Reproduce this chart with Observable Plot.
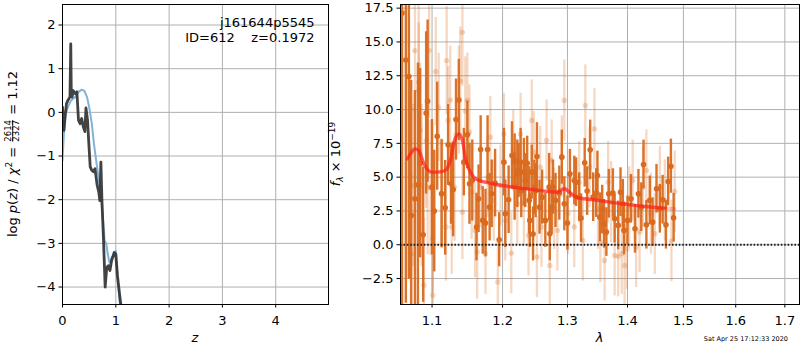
<!DOCTYPE html>
<html><head><meta charset="utf-8">
<script src="https://cdn.jsdelivr.net/npm/d3@7"></script>
<script src="https://cdn.jsdelivr.net/npm/@observablehq/plot@0.6"></script>
<style>
body{margin:0;background:#fff;}
#wrap{position:relative;width:800px;height:350px;font-family:"DejaVu Sans",sans-serif;background:#fff;}
#wrap svg{position:absolute;top:0;overflow:visible;max-width:none;}
svg text{white-space:pre;}
</style></head><body><div id="wrap"></div>
<script>
// ---------- Left panel data: log p(z) ----------
const zBlue = [0,0.03,0.06,0.1,0.16,0.24,0.3,0.36,0.41,0.46,0.5,0.55,0.59,0.64,0.69,0.73,0.76,0.79,0.82,0.85,0.88,0.91,0.96,1.0,1.03,1.07,1.1,1.15];
const pBlue = [-1.1,-0.41,-0.04,0.12,0.27,0.35,0.47,0.52,0.49,0.35,0.12,-0.26,-0.72,-1.18,-1.6,-2.02,-2.48,-2.94,-3.0,-3.25,-3.44,-3.36,-3.25,-3.17,-3.7,-4.3,-4.76,-5.5];
const zBlack = [0,0.014,0.027,0.05,0.075,0.1,0.14,0.155,0.165,0.18,0.2,0.24,0.27,0.3,0.33,0.36,0.39,0.42,0.44,0.47,0.49,0.52,0.55,0.58,0.61,0.65,0.68,0.7,0.72,0.74,0.77,0.8,0.83,0.86,0.89,0.92,0.97,1.0,1.03,1.07,1.1,1.15];
const pBlack = [0.12,-0.2,-0.41,-0.07,0.2,0.27,0.35,1.57,0.4,0.35,0.5,0.43,0.47,-0.18,-0.26,-0.14,-0.33,-0.44,0.1,-0.18,-0.63,-1.25,-1.33,-1.36,-1.29,-1.67,-1.82,-2.02,-1.14,-2.02,-2.94,-4.0,-3.55,-3.51,-3.62,-3.4,-3.21,-3.25,-3.74,-4.16,-4.46,-5.2];
const leftXTicks = [0,1,2,3,4];
const leftYTicks = [-4,-3,-2,-1,0,1,2];
const annot1 = "j161644p5545";
const annot2 = "ID=612    z=0.1972";

// ---------- Right panel data: spectrum ----------
const darkLam = [1.060,1.065,1.069,1.072,1.077,1.081,1.084,1.088,1.092,1.094,
 1.100,1.103,1.107,1.113,1.118,1.122,1.126,1.129,1.133,1.137,
 1.144,1.149,1.152,1.156,1.162,1.165,1.168,1.171,1.175,1.178,
 1.181,1.184,1.189,1.195,1.202,1.204,1.209,1.214,1.218,1.222,
 1.227,1.232,1.234,1.237,1.240,1.244,1.248,1.252,1.256,1.260,
 1.265,1.271,1.272,1.275,1.277,1.281,1.287,1.291,1.295,1.300,
 1.304,1.314,1.319,1.322,1.328,1.332,1.337,1.342,1.347,1.349,
 1.353,1.360,1.364,1.368,1.375,1.378,1.384,1.388,1.392,1.394,
 1.400,1.406,1.413,1.419,1.424,1.428,1.433,1.439,1.444,1.451,
 1.457,1.462,1.468,1.472,1.477,1.482,
 1.218,1.224,1.228,1.241,1.246,1.250,1.357,1.311];
const darkFlux = [17.14,13.67,12.44,2.17,3.40,4.43,6.03,0.74,9.75,10.62,
 4.26,2.49,8.03,3.77,2.73,7.39,4.51,4.09,9.26,10.71,
 6.11,8.13,4.51,4.75,1.31,3.40,7.04,1.80,1.60,7.04,
 2.78,3.77,4.56,0.37,6.11,2.29,3.33,6.60,4.31,5.25,
 6.11,5.37,4.75,6.03,3.28,5.37,4.26,6.53,2.78,3.52,
 1.80,4.26,0.81,2.78,4.26,3.28,3.82,6.48,3.03,1.60,
 5.25,4.63,3.52,1.97,6.06,3.97,7.02,3.52,3.82,5.12,
 2.04,1.55,0.94,3.77,3.82,1.92,1.43,3.89,3.03,1.06,
 1.80,3.40,1.18,3.77,2.78,5.94,1.48,3.28,1.67,4.14,
 2.66,3.33,1.48,4.68,5.81,2.00,
 6.2,5.5,4.0,1.8,0.8,4.0,2.6,4.75];
const darkErr = [22,18,15,10,8,9,7,5,6,6,
 5,4.5,4,4,3.5,3,3,3.5,3,3,
 2.5,2.5,3,3,2.5,2.5,2.5,2.5,2.5,2.5,
 2.5,2.5,2.5,2,2.5,2.5,2.5,2.5,2.5,2.5,
 2.5,2.5,2,2,2.5,2,2,2.5,2,2,
 2,2.5,2,2,2,2,2,2,2,2,
 1.8,1.8,1.8,1.8,1.8,1.8,2.2,1.8,1.8,1.8,
 1.8,1.8,1.8,1.8,1.8,1.8,1.8,1.8,1.8,1.8,
 1.8,1.8,1.8,1.8,1.8,1.8,1.8,1.8,1.8,1.8,
 1.8,1.8,1.8,1.8,2,1.8,
 2,2,2,2,2,2,1.8,1.8];
const lightLam = [1.072,1.075,1.077,1.082,1.082,1.084,1.086,1.089,1.092,1.094,
 1.096,1.098,1.101,1.101,1.105,1.109,1.113,1.114,1.119,1.120,
 1.122,1.125,1.127,1.131,1.137,1.139,1.142,1.142,1.146,1.149,
 1.152,1.155,1.160,1.163,1.168,1.175,1.178,1.182,1.187,1.193,
 1.197,1.202,1.204,1.213,1.216,1.222,1.227,1.232,1.239,1.244,
 1.247,1.252,1.257,1.259,1.267,1.272,1.275,1.279,1.284,1.291,
 1.295,1.301,1.311,1.319,1.325,1.329,1.336,1.344,1.350,1.354,
 1.361,1.367,1.372,1.378,1.384,1.390,1.395,1.399,1.403,1.409,
 1.415,1.421,1.427,1.433,1.441,1.448,1.457,1.466,1.478,1.484];
const lightFlux = [-0.67,4.38,14.36,12.02,11.4,8.45,4.38,-3.0,7.7,4.26,
 14.36,4.2,-3.74,0.44,12.81,10.17,3.82,3.77,1.31,13.62,
 9.19,10.7,1.31,4.26,10.7,12.1,15.71,2.41,9.9,10.67,
 8.33,3.89,1.06,-0.54,4.26,-0.67,5.0,7.96,3.28,-2.76,
 4.38,8.2,1.80,-0.62,6.97,3.03,8.2,3.03,0.69,9.19,
 6.85,-0.91,5.74,1.31,7.71,-1.53,6.23,2.66,1.06,6.53,
 10.67,2.29,1.31,4.63,0.32,10.3,5.74,8.57,2.66,0.2,
 -1.16,4.63,3.15,-0.79,-0.86,-0.67,-1.53,-0.30,2.78,4.75,
 -0.17,0.94,4.26,5.49,2.29,0.81,4.26,3.28,0.27,3.94];
const lightErr = [6,6,5,6,5,5,6,5,5,5,
 5,5,4,4,4,4,4,4,4,4,
 4,4,3.5,4,4,4,4,3.5,4,3.5,
 3.5,3.5,3.5,3.5,3,3,3,3,3,3,
 3,3,3,3,3,3,3,3,3,3,
 3,3,3,3,3,3,3,3,3,3,
 3,3,3,3,3,3,3,3,3,3,
 3,3,3,3,3,3,3,3,3,3,
 3,3,3,3,3,3,3,3,3,3];
const modelLam = [1.067,1.072,1.077,1.082,1.089,1.099,1.108,1.118,1.125,1.131,1.137,1.142,1.146,1.151,1.158,1.166,1.175,1.185,1.2,1.224,1.249,1.27,1.284,1.295,1.303,1.314,1.328,1.35,1.378,1.4,1.43,1.466];
const modelFlux = [6.35,6.8,7.09,6.97,5.99,5.37,5.37,5.49,6.23,7.71,8.2,7.71,6.48,5.62,5.0,4.75,4.63,4.51,4.38,4.21,4.06,3.94,3.89,4.14,3.89,3.52,3.40,3.28,3.10,2.98,2.83,2.71];
const modelTailLam = [1.466,1.484];
const modelTailFlux = [2.71,2.66];
const rightXTicks = [1.1,1.2,1.3,1.4,1.5,1.6,1.7];
const rightYTicks = [-2.5,0,2.5,5,7.5,10,12.5,15,17.5];
const stamp = "Sat Apr 25 17:12:33 2020";

// ---------- build ----------
const FS = 13;
const GRID = "#b0b0b0";
const ORANGE = "#d96a1e";
const minus = s => s.replace("-", "\u2212");
const wrap = document.getElementById("wrap");

const blue = zBlue.map((z,i)=>({z, p:pBlue[i]}));
const black = zBlack.map((z,i)=>({z, p:pBlack[i]}));

const left = Plot.plot({
  width: 335, height: 350,
  marginLeft: 62, marginRight: 7, marginTop: 4, marginBottom: 46,
  style: {fontFamily: "DejaVu Sans", fontSize: FS + "px", background: "transparent", overflow: "visible"},
  x: {domain: [0, 4.99]},
  y: {domain: [-4.40, 2.47]},
  marks: [
    Plot.gridX(leftXTicks, {stroke: GRID, strokeOpacity: 1, strokeWidth: 1}),
    Plot.gridY(leftYTicks, {stroke: GRID, strokeOpacity: 1, strokeWidth: 1}),
    Plot.line(blue, {x: "z", y: "p", stroke: "#7fb3da", strokeWidth: 2, clip: true}),
    Plot.line(black, {x: "z", y: "p", stroke: "#333333", strokeOpacity: 0.92, strokeWidth: 2.8, clip: true}),
    Plot.text([annot1], {frameAnchor: "top-right", text: d => d, textAnchor: "end", lineAnchor: "middle", dx: -14, dy: 18, fontSize: FS}),
    Plot.text([annot2], {frameAnchor: "top-right", text: d => d, textAnchor: "end", lineAnchor: "middle", dx: -14, dy: 33, fontSize: FS}),
    Plot.frame({stroke: "black", strokeWidth: 1}),
    Plot.axisX(leftXTicks, {tickSize: 3.5, tickPadding: 8, label: null, fontSize: FS, tickFormat: d => String(d)}),
    Plot.axisY(leftYTicks, {tickSize: 3.5, tickPadding: 3.5, label: null, fontSize: FS, tickFormat: d => minus(String(d))})
  ]
});
left.style.left = "0px";
wrap.appendChild(left);

const dark = darkLam.map((l,i)=>({lam:l, f:darkFlux[i], e:darkErr[i]}));
const light = lightLam.map((l,i)=>({lam:l, f:lightFlux[i], e:lightErr[i]}));
const model = modelLam.map((l,i)=>({lam:l, f:modelFlux[i]}));
const tail = modelTailLam.map((l,i)=>({lam:l, f:modelTailFlux[i]}));

const right = Plot.plot({
  width: 465, height: 350,
  marginLeft: 65, marginRight: 1, marginTop: 4, marginBottom: 46,
  style: {fontFamily: "DejaVu Sans", fontSize: FS + "px", background: "transparent", overflow: "visible"},
  x: {type: "log", domain: [1.058, 1.731]},
  y: {domain: [-4.42, 17.77]},
  marks: [
    Plot.gridX(rightXTicks, {stroke: GRID, strokeOpacity: 1, strokeWidth: 1}),
    Plot.gridY(rightYTicks, {stroke: GRID, strokeOpacity: 1, strokeWidth: 1}),
    Plot.ruleX(light, {x: "lam", y1: d => d.f - d.e, y2: d => d.f + d.e, stroke: ORANGE, strokeOpacity: 0.27, strokeWidth: 2.3, clip: true}),
    Plot.dot(light, {x: "lam", y: "f", r: 2.7, fill: ORANGE, fillOpacity: 0.27, stroke: "none", clip: true}),
    Plot.ruleX(dark, {x: "lam", y1: d => d.f - d.e, y2: d => d.f + d.e, stroke: ORANGE, strokeOpacity: 0.95, strokeWidth: 2.4, clip: true}),
    Plot.dot(dark, {x: "lam", y: "f", r: 2.8, fill: ORANGE, stroke: "none", clip: true}),
    Plot.line(model, {x: "lam", y: "f", stroke: "#ff1f1a", strokeOpacity: 0.72, strokeWidth: 3.4, curve: "monotone-x", clip: true}),
    Plot.line(tail, {x: "lam", y: "f", stroke: "#ff1f1a", strokeOpacity: 0.25, strokeWidth: 3.4, clip: true}),
    Plot.ruleY([0], {stroke: "#222", strokeWidth: 1.8, strokeDasharray: "1.6,1.8"}),
    Plot.frame({stroke: "black", strokeWidth: 1}),
    Plot.axisX(rightXTicks, {tickSize: 3.5, tickPadding: 8, label: null, fontSize: FS, tickFormat: d => d.toFixed(1)}),
    Plot.axisY(rightYTicks, {tickSize: 3.5, tickPadding: 3.5, label: null, fontSize: FS, tickFormat: d => minus(d.toFixed(1))})
  ]
});
right.style.left = "335px";
wrap.appendChild(right);

// ---------- rich-text labels ----------
const L = d3.select(left);
L.append("text").attr("x", 195).attr("y", 342).attr("text-anchor", "middle")
  .attr("font-size", FS).attr("font-style", "italic").attr("font-family", "DejaVu Sans").text("z");

const SMALL = 8.5;
const fracW = 4 * 0.636 * SMALL;
const yl = L.append("text").attr("transform", "translate(16.5,154) rotate(-90)")
  .attr("text-anchor", "middle").attr("font-size", FS).attr("font-family", "DejaVu Sans").attr("fill", "black");
yl.append("tspan").text("log ");
yl.append("tspan").attr("font-style", "italic").text("p");
yl.append("tspan").text("(");
yl.append("tspan").attr("font-style", "italic").text("z");
yl.append("tspan").text(") / ");
yl.append("tspan").attr("font-style", "italic").text("\u03c7");
yl.append("tspan").attr("font-size", 9).attr("dy", -5).text("2");
yl.append("tspan").attr("dy", 5).text(" = ");
yl.append("tspan").attr("font-size", SMALL).attr("dx", 1).attr("dy", -5.2)
  .attr("text-decoration", "underline").style("text-decoration", "underline").text("2614");
yl.append("tspan").attr("font-size", SMALL).attr("dx", -fracW).attr("dy", 7.6).text("2327");
yl.append("tspan").attr("dx", 1).attr("dy", -2.4).text(" = 1.12");

const R = d3.select(right);
R.append("text").attr("x", 599.5 - 335).attr("y", 342).attr("text-anchor", "middle")
  .attr("font-size", FS).attr("font-style", "italic").attr("font-family", "DejaVu Sans").text("\u03bb");
const ry = R.append("text").attr("transform", "translate(5,154) rotate(-90)").attr("text-anchor", "middle")
  .attr("font-size", FS).attr("font-family", "DejaVu Sans");
ry.append("tspan").attr("font-style", "italic").text("f");
ry.append("tspan").attr("font-style", "italic").attr("font-size", 9).attr("dy", 3).text("\u03bb");
ry.append("tspan").attr("dy", -3).text(" \u00d7 10");
ry.append("tspan").attr("font-size", 9).attr("dy", -5).text("\u221219");
R.append("text").attr("x", 788 - 335).attr("y", 341).attr("text-anchor", "end")
  .attr("font-size", 6.5).attr("font-family", "DejaVu Sans").text(stamp);
</script></body></html>
